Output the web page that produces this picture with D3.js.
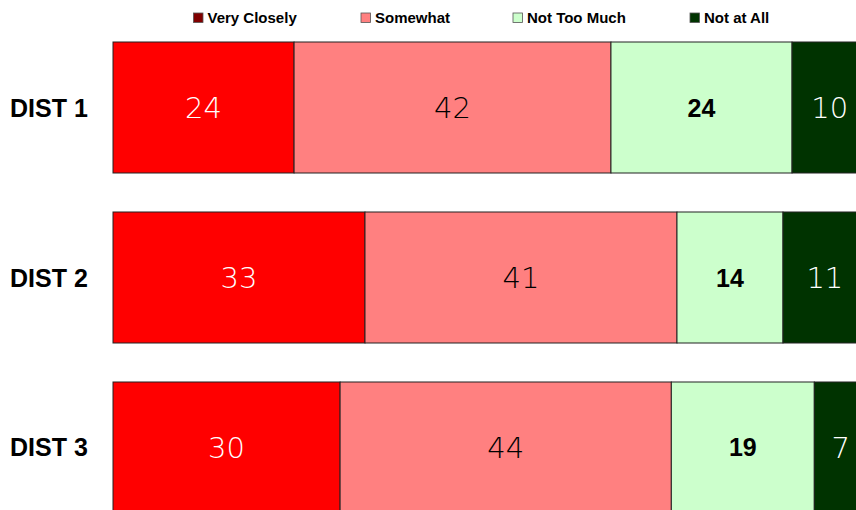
<!DOCTYPE html>
<html><head><meta charset="utf-8">
<script src="https://cdn.jsdelivr.net/npm/d3@7"></script>
<style>body{margin:0;background:#fff}svg{display:block}</style>
</head><body><div id="chart"></div>
<script>
const categories = ["DIST 1", "DIST 2", "DIST 3"];
const seriesNames = ["Very Closely", "Somewhat", "Not Too Much", "Not at All"];
const veryClosely = [24, 33.4, 30.1];
const somewhat = [42, 41.35, 43.9];
const notTooMuch = [24, 14.05, 18.95];
const notAtAll = [10, 11.1, 7];
const barColors = ["#FF0000", "#FF8080", "#CCFFCC", "#003300"];
const legendColors = ["#800000", "#FF8080", "#CCFFCC", "#003300"];

const W = 856, H = 510;
const svg = d3.select("#chart").append("svg").attr("width", W).attr("height", H);

const series = [veryClosely, somewhat, notTooMuch, notAtAll];
const rows = categories.map((c, i) => {
  const o = {cat: c};
  seriesNames.forEach((s, j) => o[s] = series[j][i]);
  return o;
});
const stacked = d3.stack().keys(seriesNames)(rows);

const x = d3.scaleLinear().domain([0, 100]).range([113, 867.5]);
const y = d3.scaleBand().domain(categories).range([42, 513]).paddingInner(0.2294).paddingOuter(0);

const labelStyles = [
  {fill: "#fff", size: 29, family: "'DejaVu Sans', Verdana, sans-serif", weight: 300},
  {fill: "#000", size: 29, family: "'DejaVu Sans', Verdana, sans-serif", weight: 300},
  {fill: "#000", size: 25, family: "Arial, 'Liberation Sans', sans-serif", weight: "bold"},
  {fill: "#fff", size: 29, family: "'DejaVu Sans', Verdana, sans-serif", weight: 300}
];

stacked.forEach((layer, j) => {
  const g = svg.append("g");
  g.selectAll("rect").data(layer).join("rect")
    .attr("x", d => x(d[0]))
    .attr("y", d => y(d.data.cat))
    .attr("width", d => x(d[1]) - x(d[0]))
    .attr("height", y.bandwidth())
    .attr("fill", barColors[j])
    .attr("stroke", "#222")
    .attr("stroke-width", 1);
  const st = labelStyles[j];
  g.selectAll("text").data(layer).join("text")
    .attr("x", d => (x(d[0]) + x(d[1])) / 2)
    .attr("y", d => y(d.data.cat) + y.bandwidth() / 2)
    .attr("dy", "0.36em")
    .attr("text-anchor", "middle")
    .attr("fill", st.fill)
    .attr("font-family", st.family)
    .style("font-size", st.size + "px")
    .style("font-weight", st.weight)
    .text(d => d3.format(".0f")(d[1] - d[0]));
});

// category labels
svg.append("g").selectAll("text").data(categories).join("text")
  .attr("x", 10)
  .attr("y", d => y(d) + y.bandwidth() / 2)
  .attr("dy", "0.36em")
  .attr("font-family", "Arial, 'Liberation Sans', sans-serif")
  .attr("font-weight", "bold")
  .style("font-size", "25px")
  .attr("fill", "#000")
  .text(d => d);

// legend
const legendX = [193.5, 361, 513, 690];
const lg = svg.append("g");
seriesNames.forEach((s, j) => {
  lg.append("rect").attr("x", legendX[j]).attr("y", 13).attr("width", 9.5).attr("height", 9.5)
    .attr("fill", legendColors[j]).attr("stroke", "#555").attr("stroke-width", 0.8);
  lg.append("text").attr("x", legendX[j] + 14).attr("y", 23)
    .attr("font-family", "Arial, 'Liberation Sans', sans-serif")
    .attr("font-weight", "bold").style("font-size", "15px").attr("fill", "#000")
    .text(s);
});
</script></body></html>
